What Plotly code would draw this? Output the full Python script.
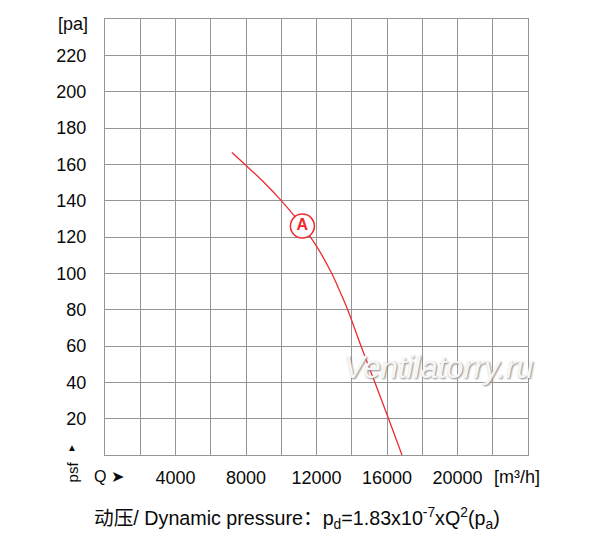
import plotly.graph_objects as go

# Kennlinie A (Q in m3/h, p_st in Pa)
q_values = [7200, 7930, 9000, 10000, 11200, 12000, 12860, 13330, 13770, 14525, 15310, 16090, 16850]
p_values = [166.5, 160, 150.3, 140, 126, 115, 100, 90, 80, 60, 40, 20, 0]

# Markierung "A"
label_q = [11200]
label_p = [126]
label_text = ["A"]

# Achsen
x_grid = list(range(0, 24001, 2000))
x_labels = ["", "", "4000", "", "8000", "", "12000", "", "16000", "", "20000", "", ""]
y_grid = list(range(0, 241, 20))
y_labels = ["", "20", "40", "60", "80", "100", "120", "140", "160", "180", "200", "220", ""]

RED = "#ee2a2f"
GRID = "#959595"
FONT = "Liberation Sans, Arial, Noto Sans CJK SC"

fig = go.Figure()

fig.add_trace(go.Scatter(x=q_values, y=p_values, mode="lines",
                         line=dict(color=RED, width=1.3, shape="spline", smoothing=0.8),
                         hoverinfo="skip"))
fig.add_trace(go.Scatter(x=label_q, y=label_p, mode="markers+text", text=label_text,
                         textposition="middle center",
                         textfont=dict(color=RED, size=16, family=FONT, weight="bold"),
                         marker=dict(size=24, color="white", line=dict(color=RED, width=1.5)),
                         hoverinfo="skip"))

# die Seite hat 8px Rand, deshalb 592x529 und links/oben 8px weniger
fig.update_layout(
    width=592, height=529,
    margin=dict(l=97, r=72, t=11, b=82),
    paper_bgcolor="white", plot_bgcolor="white",
    showlegend=False,
    font=dict(family=FONT, size=18, color="#0a0a0a"),
)
fig.update_xaxes(range=[0, 24000], tickvals=x_grid, ticktext=x_labels,
                 showgrid=True, gridcolor=GRID, gridwidth=1.4,
                 showline=True, linecolor=GRID, linewidth=1.4, mirror=True,
                 ticks="outside", ticklen=6, tickcolor="rgba(0,0,0,0)", zeroline=False)
fig.update_yaxes(range=[0, 240], tickvals=y_grid, ticktext=y_labels,
                 showgrid=True, gridcolor=GRID, gridwidth=1.4,
                 showline=True, linecolor=GRID, linewidth=1.4, mirror=True,
                 ticks="outside", ticklen=14, tickcolor="rgba(0,0,0,0)", zeroline=False)

# Beschriftungen
fig.add_annotation(text="[pa]", xref="paper", yref="paper", x=-0.075, y=1.0, yshift=-5,
                   showarrow=False, font=dict(size=18), xanchor="center", yanchor="middle")
fig.add_annotation(text="[m³/h]", xref="paper", yref="paper", x=0.975, y=0, yshift=-22,
                   showarrow=False, font=dict(size=18), xanchor="center", yanchor="middle")
fig.add_annotation(text="Q ➤", xref="paper", yref="paper", x=-0.03, y=0, yshift=-21,
                   showarrow=False, font=dict(size=16), xanchor="left", yanchor="middle")
fig.add_annotation(text="▲", xref="paper", yref="paper", x=-0.077, y=0, yshift=8,
                   showarrow=False, font=dict(size=10), xanchor="center", yanchor="middle")
fig.add_annotation(text="psf", xref="paper", yref="paper", x=-0.077, y=0, yshift=-17,
                   showarrow=False, font=dict(size=15), textangle=-90, xanchor="center", yanchor="middle")
fig.add_annotation(text="<i>Ventilatorry.ru</i>", xref="paper", yref="paper", x=0.79, y=0.2,
                   showarrow=False, xanchor="center", yanchor="middle",
                   font=dict(size=31, color="#f6f6f6", shadow="1px 1px 2px #8a8a8a"))
fig.add_annotation(text="动压/ Dynamic pressure：p<sub>d</sub>=1.83x10<sup>-7</sup>xQ<sup>2</sup>(p<sub>a</sub>)",
                   xref="paper", yref="paper", x=-0.03, y=0, yshift=-63,
                   showarrow=False, xanchor="left", yanchor="middle", font=dict(size=19.7))

fig.write_html("out.html")
